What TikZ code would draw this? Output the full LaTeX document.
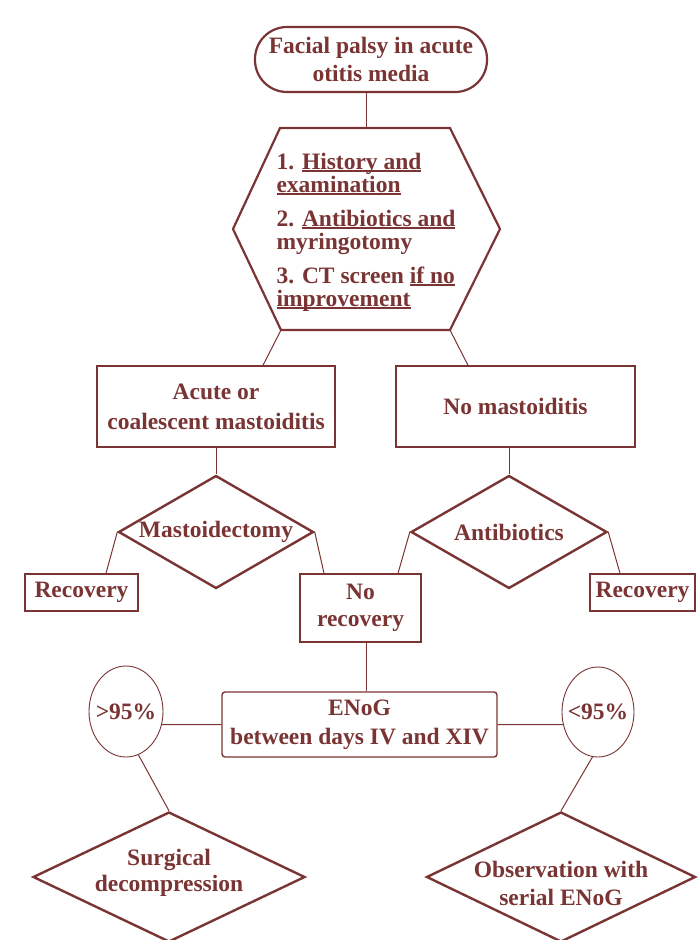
\documentclass[tikz,border=0pt]{standalone}
\usepackage{fontspec}
\setmainfont{Liberation Serif}
\usetikzlibrary{shapes.geometric,calc}
\definecolor{mr}{RGB}{122,52,52}
\newcommand\myul[1]{\setbox0\hbox{#1}\rlap{\rule[-2.6pt]{\wd0}{1.3pt}}\box0}
\begin{document}
\begin{tikzpicture}[x=1pt,y=-1pt,
  every node/.style={text=mr, font=\bfseries\fontsize{23.5}{28}\selectfont, align=center, inner sep=0pt},
  box/.style={draw=mr, line width=1.4pt, rectangle},
  term/.style={draw=mr, line width=2.2pt, rectangle, rounded corners=32pt},
  hexline/.style={draw=mr, line width=2.2pt, line join=miter},
  dia/.style={diamond, draw=mr, line width=2.4pt},
  ell/.style={ellipse, draw=mr, line width=0.9pt},
  conn/.style={draw=mr, line width=1pt}]
\fill[white] (0,0) rectangle (697,940);
\useasboundingbox (0,0) rectangle (697,940);

% top terminator
\node[term, minimum width=232pt, minimum height=65pt] (top) at (371,59.5)
  {Facial palsy in acute\\otitis media};

% hexagon
\coordinate (hT) at (366,128);
\coordinate (hBL) at (281,330);
\coordinate (hBR) at (450,330);
\draw[hexline] (280,128) -- (450,128) -- (500,229) -- (hBR) -- (hBL) -- (233,229) -- cycle;
\node[align=left, font=\bfseries\fontsize{23.5}{23}\selectfont] (hex) at (366,232)
  {1. \myul{History and}\\\myul{examination}\\[11pt]
   2. \myul{Antibiotics and}\\myringotomy\\[11pt]
   3. CT screen \myul{if no}\\\myul{improvement}};

% second level boxes
\node[box, minimum width=238pt, minimum height=81pt, font=\bfseries\fontsize{23.5}{30}\selectfont] (acute) at (216,406.5)
  {Acute or\\coalescent mastoiditis};
\node[box, minimum width=239pt, minimum height=81pt] (nomast) at (515.5,406.5) {No mastoiditis};

% diamonds
\node[dia, minimum width=195pt, minimum height=113pt, label={center:Mastoidectomy}] (mast) at (216,532) {};
\node[dia, minimum width=196pt, minimum height=113pt, label={center:Antibiotics}] (anti) at (509,532) {};

% recovery boxes
\node[box, minimum width=113pt, minimum height=37pt] (recL) at (81.5,592.5) {Recovery};
\node[box, minimum width=105pt, minimum height=37pt] (recR) at (642.5,592.5) {Recovery};
\node[box, minimum width=121pt, minimum height=68pt, font=\bfseries\fontsize{23.5}{27}\selectfont] (norec) at (360.5,608) {No\\recovery};

% ENoG
\node[box, rounded corners=3pt, minimum width=275pt, minimum height=65pt, font=\bfseries\fontsize{23.5}{29}\selectfont] (enog) at (359.5,724.5)
  {ENoG\\between days IV and XIV};

% ellipses
\node[ell, minimum width=74pt, minimum height=91pt, label={center:>95\%}] (gt) at (126,711.5) {};
\node[ell, minimum width=72pt, minimum height=90pt, label={center:<95\%}] (lt) at (598,712) {};

% bottom diamonds
\node[dia, minimum width=272pt, minimum height=130pt,
  label={[font=\bfseries\fontsize{23.5}{26}\selectfont, yshift=4pt]center:Surgical\\decompression}] (surg) at (169,877) {};
\node[dia, minimum width=269pt, minimum height=130pt,
  label={[font=\bfseries\fontsize{23.5}{28}\selectfont, yshift=-6pt]center:Observation with\\serial ENoG}] (obs) at (561,877) {};

% connectors
\draw[conn] (hT) -- (hT |- top.south);
\draw[conn] (hBL) -- ([xshift=47pt]acute.north);
\draw[conn] (hBR) -- ([xshift=-47.5pt]nomast.north);
\draw[conn] (acute.south) -- (mast.north);
\draw[conn] (anti.north) -- (anti.north |- nomast.south);
\draw[conn] (mast.west) -- ([xshift=24.5pt]recL.north);
\draw[conn] (mast.east) -- ([xshift=-36.5pt]norec.north);
\draw[conn] (anti.west) -- ([xshift=37.5pt]norec.north);
\draw[conn] (anti.east) -- ([xshift=-22.5pt]recR.north);
\draw[conn] ([xshift=5.5pt]norec.south) -- ([xshift=5.5pt]norec.south |- enog.north);
\draw[conn] (enog.west) -- (gt.-20);
\draw[conn] (enog.east) -- (lt.200);
\draw[conn] (gt.-74) -- (surg.north);
\draw[conn] (lt.-97) -- (obs.north);
\end{tikzpicture}
\end{document}
